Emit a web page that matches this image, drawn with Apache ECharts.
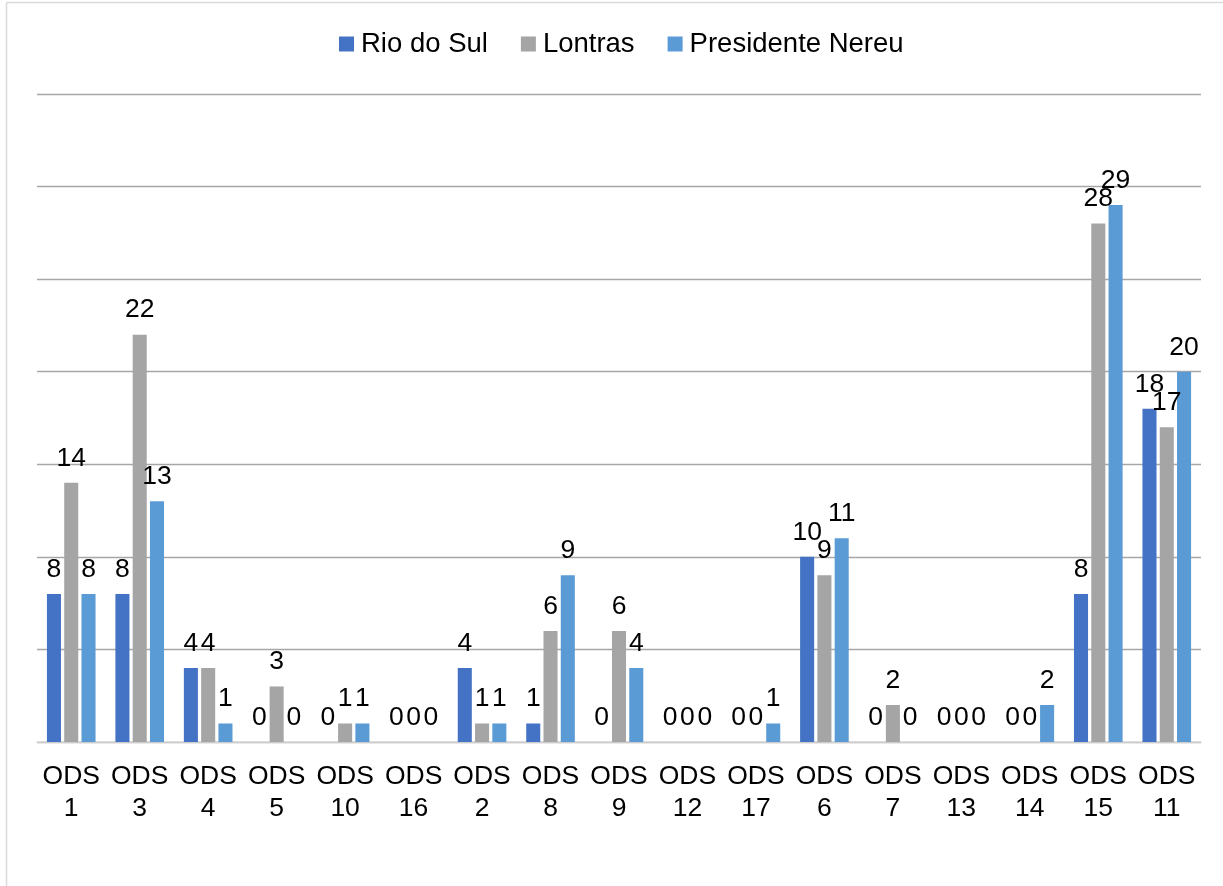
<!DOCTYPE html>
<html>
<head>
<meta charset="utf-8">
<script src="https://cdn.jsdelivr.net/npm/echarts@6/dist/echarts.min.js"></script>
<style>
  html, body { margin: 0; padding: 0; background: #fff; }
  #chart { width: 1223px; height: 886px; }
</style>
</head>
<body>
<div id="chart"></div>
<script>
// Goals (ODS) in display order
const categories = ['ODS\n1', 'ODS\n3', 'ODS\n4', 'ODS\n5', 'ODS\n10', 'ODS\n16', 'ODS\n2', 'ODS\n8', 'ODS\n9',
  'ODS\n12', 'ODS\n17', 'ODS\n6', 'ODS\n7', 'ODS\n13', 'ODS\n14', 'ODS\n15', 'ODS\n11'];

// Counts per municipality
const rioDoSul        = [8, 8, 4, 0, 0, 0, 4, 1, 0, 0, 0, 10, 0, 0, 0, 8, 18];
const lontras         = [14, 22, 4, 3, 1, 0, 1, 6, 6, 0, 0, 9, 2, 0, 0, 28, 17];
const presidenteNereu = [8, 13, 1, 0, 1, 0, 1, 9, 4, 0, 1, 11, 0, 0, 2, 29, 20];

const seriesNames = ['Rio do Sul', 'Lontras', 'Presidente Nereu'];
const seriesData = [rioDoSul, lontras, presidenteNereu];
const colors = ['#4472C4', '#A5A5A5', '#5B9BD5'];

const FONT = '"Liberation Sans", Arial, sans-serif';

const chart = echarts.init(document.getElementById('chart'), null, { renderer: 'canvas' });

chart.setOption({
  animation: false,
  backgroundColor: '#ffffff',
  color: colors,
  // thin frame along the top and left edges
  graphic: [
    { type: 'line', shape: { x1: 6.5, y1: 2.5, x2: 1223, y2: 2.5 }, style: { stroke: '#d9d9d9', lineWidth: 1.5 }, silent: true },
    { type: 'line', shape: { x1: 6.5, y1: 2.5, x2: 6.5, y2: 886 }, style: { stroke: '#d9d9d9', lineWidth: 1.5 }, silent: true }
  ],
  legend: {
    top: 25,
    left: 334,
    itemWidth: 15,
    itemHeight: 15,
    itemGap: 33,
    icon: 'rect',
    textStyle: { fontFamily: FONT, fontSize: 27.5, color: '#000', padding: [0, 0, 0, 2] },
    data: seriesNames
  },
  grid: { left: 37, right: 22, top: 94, bottom: 144, containLabel: false },
  xAxis: {
    type: 'category',
    data: categories,
    axisLine: { lineStyle: { color: '#d9d9d9', width: 1.5 } },
    axisTick: { show: false },
    axisLabel: {
      fontFamily: FONT, fontSize: 26.5, color: '#000', lineHeight: 32, margin: 19, interval: 0
    }
  },
  yAxis: {
    type: 'value',
    min: 0, max: 35, interval: 5,
    axisLabel: { show: false },
    axisLine: { show: false },
    axisTick: { show: false },
    splitLine: { lineStyle: { color: '#a6a6a6', width: 1.3 } }
  },
  series: seriesNames.map((name, i) => ({
    name: name,
    type: 'bar',
    data: seriesData[i],
    barGap: '23%',
    barCategoryGap: '29%',
    itemStyle: { color: colors[i] },
    label: {
      show: true,
      position: 'top',
      distance: 11,
      fontFamily: FONT,
      fontSize: 26.5,
      color: '#000'
    }
  }))
});
</script>
</body>
</html>
